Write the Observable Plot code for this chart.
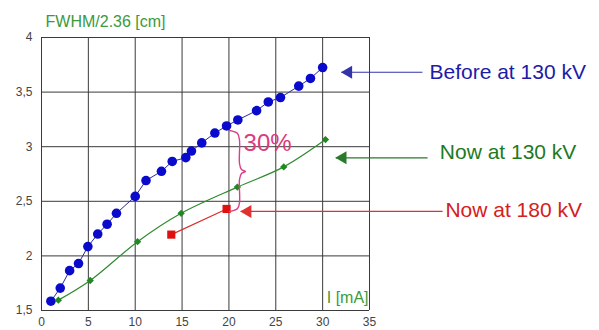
<!DOCTYPE html>
<html>
<head>
<meta charset="utf-8">
<script src="https://cdn.jsdelivr.net/npm/d3@7"></script>
<script src="https://cdn.jsdelivr.net/npm/@observablehq/plot@0.6"></script>
<style>
  html, body { margin: 0; padding: 0; background: #fff; }
</style>
</head>
<body>
<div id="chart"></div>
<script>
// Before at 130 kV
const beforeI = [1.0, 2.0, 3.0, 3.95, 4.95, 6.0, 7.0, 8.0, 10.0, 11.15, 12.8, 13.95, 15.4, 16.0, 17.1, 18.5, 19.75, 20.95, 22.95, 24.2, 25.5, 27.45, 28.7, 30.0];
const beforeF = [1.585, 1.705, 1.865, 1.93, 2.085, 2.2, 2.29, 2.39, 2.545, 2.69, 2.775, 2.865, 2.9, 2.96, 3.035, 3.125, 3.19, 3.245, 3.33, 3.41, 3.45, 3.555, 3.625, 3.725];
// Now at 130 kV
const now130I = [1.8, 5.2, 10.25, 14.9, 20.9, 25.85, 30.3];
const now130F = [1.595, 1.775, 2.13, 2.39, 2.63, 2.815, 3.065];
// Now at 180 kV
const now180I = [13.85, 19.75];
const now180F = [2.195, 2.43];

// Ticks
const xTicks = [0, 5, 10, 15, 20, 25, 30, 35];
const yTicks = [1.5, 2, 2.5, 3, 3.5, 4];
const yTickLabels = ["1,5", "2", "2,5", "3", "3,5", "4"];

// Annotations (data units)
const seriesLabels = ["Before at 130 kV", "Now at 130 kV", "Now at 180 kV"];
const seriesColors = ["#1c1ca8", "#1e7a1e", "#d42020"];
const arrowColors = ["#3333aa", "#2a7a2a", "#e03030"];
const arrowTip = [32.0, 31.4, 21.25];
const arrowEnd = [40.65, 41.2, 42.8];
const arrowY = [3.682, 2.898, 2.407];
const labelX = [41.4, 42.5, 43.1];
const labelY = [3.68, 2.95, 2.416];

const braceX = [20.06, 20.92, 21.13, 21.13, 21.34, 21.77, 21.34, 21.13, 21.13, 20.92, 20.06];
const braceY = [3.148, 3.121, 3.057, 2.846, 2.791, 2.773, 2.755, 2.700, 2.489, 2.434, 2.407];
const pctText = "30%";
const pctX = 21.56, pctY = 3.03;

const yLabel = "FWHM/2.36 [cm]";
const yLabelX = 0.43, yLabelY = 4.147;
const xLabel = "I [mA]";
const xLabelX = 34.9, xLabelY = 1.619;

const before = beforeI.map((x, i) => ({x, y: beforeF[i]}));
const now130 = now130I.map((x, i) => ({x, y: now130F[i]}));
const now180 = now180I.map((x, i) => ({x, y: now180F[i]}));
const arrows = seriesLabels.map((label, i) => ({
  label, color: seriesColors[i], acolor: arrowColors[i],
  tip: arrowTip[i], end: arrowEnd[i], y: arrowY[i], lx: labelX[i], ly: labelY[i]
}));
const brace = braceX.map((x, i) => ({x, y: braceY[i]}));

const chart = Plot.plot({
  width: 599,
  height: 330,
  marginLeft: 41,
  marginRight: 230,
  marginTop: 37,
  marginBottom: 20,
  style: {fontFamily: "'Liberation Sans', Arial, sans-serif", background: "#fff"},
  x: {domain: [0, 35], ticks: xTicks, tickSize: 0, tickPadding: 8, label: null},
  y: {domain: [1.5, 4], ticks: yTicks, tickSize: 0, tickPadding: 9, label: null,
      tickFormat: d => yTickLabels[yTicks.indexOf(d)]},
  marks: [
    Plot.ruleX(xTicks, {stroke: "#3a3a3a", strokeWidth: 1}),
    Plot.ruleY(yTicks, {stroke: "#3a3a3a", strokeWidth: 1}),
    Plot.axisX({ticks: xTicks, tickSize: 0, tickPadding: 7, fontSize: 12, fill: "#444"}),
    Plot.axisY({ticks: yTicks, tickSize: 0, tickPadding: 9, fontSize: 12, fill: "#444",
      tickFormat: d => yTickLabels[yTicks.indexOf(d)]}),
    // series
    Plot.line(before, {x: "x", y: "y", stroke: "#2a2a99", strokeWidth: 1}),
    Plot.dot(before, {x: "x", y: "y", r: 4.8, fill: "#0a0acd", stroke: "none"}),
    Plot.line(now130, {x: "x", y: "y", stroke: "#2e8b2e", strokeWidth: 1.2, curve: "catmull-rom"}),
    Plot.dot(now130, {x: "x", y: "y", r: 3.3, symbol: "diamond2", fill: "#1f8a1f", stroke: "none"}),
    Plot.line(now180, {x: "x", y: "y", stroke: "#d83030", strokeWidth: 1.2}),
    Plot.dot(now180, {x: "x", y: "y", r: 4.6, symbol: "square", fill: "#e01010", stroke: "none"}),
    // brace + 30%
    Plot.line(brace, {x: "x", y: "y", stroke: "#d9408a", strokeWidth: 1.4, curve: "catmull-rom"}),
    Plot.text([pctText], {x: pctX, y: pctY, text: d => d, fill: "#dd3a80", fontSize: 24, textAnchor: "start"}),
    // arrows
    Plot.link(arrows, {x1: "end", x2: "tip", y1: "y", y2: "y", stroke: "acolor", strokeWidth: 1.2}),
    Plot.dot(arrows, {x: "tip", y: "y", symbol: "triangle", r: 4.8, rotate: -90, dx: 7, fill: "acolor", stroke: "none"}),
    Plot.text(arrows, {x: "lx", y: "ly", text: "label", fill: "color", fontSize: 21, textAnchor: "start"}),
    // axis labels
    Plot.text([yLabel], {x: yLabelX, y: yLabelY, text: d => d, fill: "#3c9a3c", fontSize: 16, textAnchor: "start"}),
    Plot.text([xLabel], {x: xLabelX, y: xLabelY, text: d => d, fill: "#3c9a3c", fontSize: 16, textAnchor: "end"})
  ]
});
document.getElementById("chart").appendChild(chart);
</script>
</body>
</html>
